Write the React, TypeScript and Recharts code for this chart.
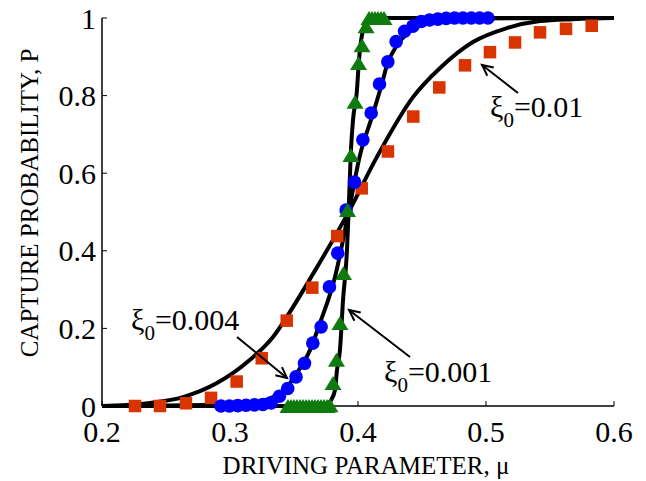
import React from "react";
import { ComposedChart, Line, Scatter, XAxis, YAxis } from "recharts";

// measured data (driving parameter mu, capture probability P)
const redMu = [0.2258, 0.2453, 0.2656, 0.2852, 0.3052, 0.3248, 0.3443, 0.3643, 0.3838, 0.4029, 0.4234, 0.4432, 0.4635, 0.4836, 0.5031, 0.5227, 0.5422, 0.5625, 0.5826];
const redP = [0.0, 0.0, 0.007, 0.021, 0.063, 0.123, 0.22, 0.305, 0.438, 0.561, 0.656, 0.746, 0.821, 0.878, 0.912, 0.937, 0.963, 0.972, 0.98];

const blueMu = [0.293, 0.2995, 0.306, 0.3125, 0.3191, 0.3256, 0.3321, 0.3386, 0.3451, 0.3516, 0.3582, 0.3647, 0.3712, 0.3777, 0.3842, 0.3907, 0.3973, 0.4038, 0.4103, 0.4168, 0.4233, 0.4298, 0.4364, 0.4429, 0.4494, 0.4559, 0.4624, 0.4689, 0.4755, 0.482, 0.4885, 0.495, 0.5015];
const blueP = [0.0, 0.0, 0.001, 0.002, 0.003, 0.004, 0.008, 0.025, 0.045, 0.075, 0.11, 0.162, 0.204, 0.307, 0.394, 0.505, 0.577, 0.686, 0.755, 0.83, 0.887, 0.939, 0.966, 0.979, 0.991, 0.995, 0.997, 0.999, 1, 1, 1, 1, 1];

const greenMu = [0.3453, 0.3477, 0.35, 0.3523, 0.3547, 0.357, 0.3594, 0.3617, 0.3641, 0.3664, 0.3688, 0.3711, 0.3734, 0.3758, 0.3781, 0.3805, 0.3832, 0.3859, 0.3887, 0.3918, 0.3945, 0.3977, 0.4004, 0.4031, 0.4063, 0.4086, 0.4109, 0.4133, 0.4156, 0.418, 0.4203];
const greenP = [0, 0, 0, 0, 0, 0, 0, 0, 0, 0, 0, 0, 0, 0, 0.002, 0.059, 0.119, 0.214, 0.343, 0.505, 0.647, 0.784, 0.884, 0.93, 0.979, 1, 1, 1, 1, 1, 1];

// fitted curves
const fitAMu = [0.2, 0.2375, 0.2633, 0.2898, 0.3156, 0.3336, 0.3492, 0.3648, 0.3922, 0.4148, 0.443, 0.4641, 0.4898, 0.5164, 0.5422, 0.568, 0.6];
const fitAP = [0.0, 0.008, 0.023, 0.059, 0.119, 0.178, 0.255, 0.34, 0.497, 0.642, 0.796, 0.871, 0.938, 0.974, 0.992, 0.997, 1.0];

const fitBMu = [0.2, 0.2898, 0.3156, 0.3336, 0.3445, 0.3523, 0.3625, 0.3703, 0.382, 0.3922, 0.4016, 0.4109, 0.4188, 0.4227, 0.4305, 0.4406, 0.4508, 0.4664, 0.4875, 0.6];
const fitBP = [0.0, 0.003, 0.008, 0.023, 0.049, 0.085, 0.144, 0.214, 0.332, 0.492, 0.647, 0.745, 0.832, 0.879, 0.93, 0.966, 0.987, 0.995, 0.999, 1.0];

const fitCMu = [0.2, 0.3703, 0.3758, 0.3789, 0.382, 0.3836, 0.3859, 0.3883, 0.3914, 0.3926, 0.3945, 0.3961, 0.399, 0.4008, 0.4031, 0.407, 0.4148, 0.6];
const fitCP = [0.0, 0.0, 0.005, 0.015, 0.041, 0.093, 0.144, 0.273, 0.402, 0.497, 0.66, 0.737, 0.807, 0.892, 0.956, 0.992, 1.0, 1.0];

const xTicks = [0.2, 0.3, 0.4, 0.5, 0.6];
const yTicks = [0, 0.2, 0.4, 0.6, 0.8, 1];

const zip = (mu: number[], p: number[]) => mu.map((m, i) => ({ mu: m, p: p[i] }));

const red = zip(redMu, redP);
const blue = zip(blueMu, blueP);
const green = zip(greenMu, greenP);
const fitA = zip(fitAMu, fitAP);
const fitB = zip(fitBMu, fitBP);
const fitC = zip(fitCMu, fitCP);

const FONT = "'Liberation Serif', 'Times New Roman', serif";

const Square = (props: any) => {
  const { cx, cy } = props;
  const s = 12.5;
  return <rect x={cx - s / 2} y={cy - s / 2} width={s} height={s} fill="#d93300" />;
};

const Dot = (props: any) => {
  const { cx, cy } = props;
  return <circle cx={cx} cy={cy} r={6.8} fill="#0000ff" />;
};

const Tri = (props: any) => {
  const { cx, cy } = props;
  const w = 17;
  const h = 14;
  return (
    <polygon
      points={`${cx - w / 2},${cy + h / 2} ${cx + w / 2},${cy + h / 2} ${cx},${cy - h / 2}`}
      fill="#0f7b0f"
    />
  );
};

function Arrow(props: { x1: number; y1: number; x2: number; y2: number }) {
  const { x1, y1, x2, y2 } = props;
  const a = Math.atan2(y1 - y2, x1 - x2);
  const len = 12;
  const spread = 0.45;
  const p1 = [x2 + len * Math.cos(a + spread), y2 + len * Math.sin(a + spread)];
  const p2 = [x2 + len * Math.cos(a - spread), y2 + len * Math.sin(a - spread)];
  return (
    <g stroke="#000" strokeWidth={2} fill="none">
      <line x1={x1} y1={y1} x2={x2} y2={y2} />
      <polyline points={`${p1[0]},${p1[1]} ${x2},${y2} ${p2[0]},${p2[1]}`} />
    </g>
  );
}

function Xi(props: { x: number; y: number; value: string }) {
  return (
    <text x={props.x} y={props.y} fontSize={30} fill="#000">
      ξ
      <tspan fontSize={21} dy={10}>0</tspan>
      <tspan dy={-10}>={props.value}</tspan>
    </text>
  );
}

export default function App() {
  const tickStyle = { fill: "#000", fontSize: 30, fontFamily: FONT };
  const axisLine = { stroke: "#000", strokeWidth: 1.5 };
  const tickLine = { stroke: "#000", strokeWidth: 1 };
  return (
    <div style={{ position: "absolute", left: 0, top: 0, width: 646, height: 481, fontFamily: FONT, background: "#fff" }}>
      <ComposedChart width={646} height={481} margin={{ top: 18, right: 32, bottom: 0, left: 0 }}>
        <XAxis
          xAxisId={0}
          dataKey="mu"
          type="number"
          domain={[0.2, 0.6]}
          ticks={xTicks}
          height={75}
          tickSize={-5}
          tickMargin={20}
          tick={tickStyle}
          axisLine={axisLine}
          tickLine={tickLine}
        />
        <XAxis
          xAxisId="top"
          orientation="top"
          dataKey="mu"
          type="number"
          domain={[0.2, 0.6]}
          ticks={xTicks}
          height={0}
          tickSize={-5}
          tick={false}
          axisLine={axisLine}
          tickLine={tickLine}
        />
        <YAxis
          yAxisId={0}
          dataKey="p"
          type="number"
          domain={[0, 1]}
          ticks={yTicks}
          width={102}
          tickSize={-5}
          tickMargin={11}
          tick={tickStyle}
          axisLine={axisLine}
          tickLine={tickLine}
        />
        <YAxis
          yAxisId="right"
          orientation="right"
          dataKey="p"
          type="number"
          domain={[0, 1]}
          ticks={yTicks}
          width={0}
          tickSize={-5}
          tick={false}
          axisLine={axisLine}
          tickLine={tickLine}
        />
        <Scatter data={red} dataKey="p" shape={Square} isAnimationActive={false} />
        <Scatter data={blue} dataKey="p" shape={Dot} isAnimationActive={false} />
        <Scatter data={green} dataKey="p" shape={Tri} isAnimationActive={false} />
        <Line data={fitA} dataKey="p" type="monotone" stroke="#000" strokeWidth={4} dot={false} isAnimationActive={false} />
        <Line data={fitB} dataKey="p" type="monotone" stroke="#000" strokeWidth={4} dot={false} isAnimationActive={false} />
        <Line data={fitC} dataKey="p" type="monotone" stroke="#000" strokeWidth={4} dot={false} isAnimationActive={false} />
      </ComposedChart>
      <svg
        width={646}
        height={481}
        style={{ position: "absolute", left: 0, top: 0, pointerEvents: "none", fontFamily: FONT }}
      >
        <text x={366} y={474} fontSize={25} textAnchor="middle" fill="#000">
          DRIVING PARAMETER, μ
        </text>
        <text transform="rotate(-90)" x={-203} y={38} fontSize={25} textAnchor="middle" fill="#000">
          CAPTURE PROBABILITY, P
        </text>
        <Arrow x1={518} y1={93} x2={482} y2={65} />
        <Arrow x1={237} y1={337} x2={287} y2={378} />
        <Arrow x1={410} y1={357} x2={349} y2={310} />
        <Xi x={490} y={117} value="0.01" />
        <Xi x={131} y={330} value="0.004" />
        <Xi x={384} y={382} value="0.001" />
      </svg>
    </div>
  );
}
